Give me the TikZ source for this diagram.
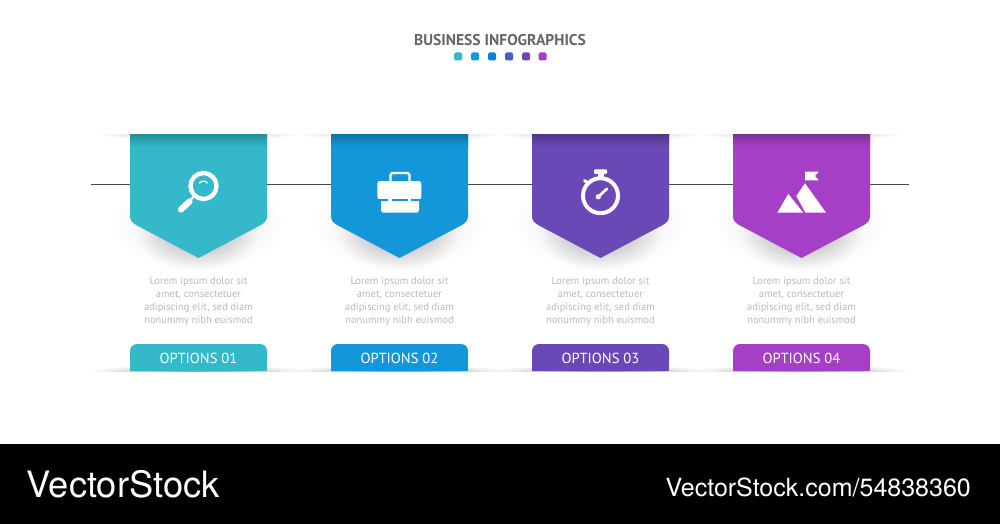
\documentclass[tikz,border=0pt]{standalone}
\usepackage{fontspec}
\setmainfont{PT Sans}
\newfontfamily\logofont{TeX Gyre Heros}
\definecolor{cteal}{HTML}{35B8C9}
\definecolor{cblue}{HTML}{1497D8}
\definecolor{cmid}{HTML}{0A80D8}
\definecolor{cind}{HTML}{4A5CC4}
\definecolor{cpur}{HTML}{6A48B5}
\definecolor{cvio}{HTML}{A53FC6}
\newcommand{\softell}[5]{% cx cy rx ry opacity
  \foreach \k in {1,...,32}{
    \fill[black,opacity=#5] (#1,#2) ellipse [x radius={#3*\k/32}, y radius={#4*\k/32}];
  }}
\newcommand{\bandunit}[4]{% offset colour name-suffix label
  \begin{scope}[xshift=#1pt]
    \begin{scope}
      \clip (80,134) rectangle (320,300);
      \softell{198.5}{133}{105}{8}{0.008}
      \softell{198.5}{222}{84}{50}{0.0035}
      \softell{198.5}{234}{60}{36}{0.0075}
    \end{scope}
    \begin{scope}
      \clip (80,340) rectangle (320,371);
      \softell{198.5}{372}{108}{7}{0.011}
    \end{scope}
    \path[fill=#2] (130,134) -- (267,134) -- (267,216)
      .. controls (267,220) and (265,223) .. (260,225.5)
      -- (198.5,258) -- (137,225.5)
      .. controls (132,223) and (130,220) .. (130,216) -- cycle;
    \shade[top color=#2!76!black,bottom color=#2] (130,134) rectangle (267,147);
    \node[lorem] (text#3) at (198.5,301.8) {Lorem ipsum dolor sit\\amet, consectetuer\\adipiscing elit, sed diam\\nonummy nibh euismod};
    \path[fill=#2,rounded corners=7pt] (130,371.2) -- (130,344) -- (267,344) -- (267,371.2) [sharp corners] -- cycle;
    \fill[#2] (130,360) rectangle (267,371);
    \node[opt] (option#3) at (198.5,358.8) {#4};
  \end{scope}}
\tikzset{
  lorem/.style={align=center,text=black!27,font=\fontsize{10.5}{13}\selectfont,inner sep=0pt},
  opt/.style={text=white,font=\fontsize{14.6}{16}\selectfont,inner sep=0pt},
  dot/.style={minimum size=8pt,inner sep=0pt,rounded corners=1.5pt,fill=#1},
  iconw/.style={fill=white,draw=none},
  strokew/.style={draw=white,fill=none}
}
\begin{document}
\begin{tikzpicture}[x=1pt,y=-1pt]
\useasboundingbox (0,0) rectangle (1000,524);
\fill[white] (0,0) rectangle (1000,524);
\coordinate (lineL) at (91,184.3);
\coordinate (lineR) at (909,184.3);
\draw[line width=0.9pt,black!72] (lineL) -- (lineR);
\bandunit{0}{cteal}{a}{OPTIONS 01}
\bandunit{201}{cblue}{b}{OPTIONS 02}
\bandunit{402}{cpur}{c}{OPTIONS 03}
\bandunit{603}{cvio}{d}{OPTIONS 04}
% title
\node[text=black!60,font=\fontsize{15.6}{16}\selectfont\bfseries,inner sep=0pt] (title) at (500,40) {BUSINESS INFOGRAPHICS};
\node[dot=cteal] (d1) at (458,56.5) {};
\node[dot=cblue] (d2) at (475,56.5) {};
\node[dot=cmid] (d3) at (492,56.5) {};
\node[dot=cind] (d4) at (509,56.5) {};
\node[dot=cpur] (d5) at (526,56.5) {};
\node[dot=cvio] (d6) at (542.5,56.5) {};
% magnifier
\draw[strokew,line width=4.4pt] (203.5,186) circle (13);
\draw[white,line width=1.3pt,line cap=round] (199.5,183) .. controls (202,180.5) and (205,180.5) .. (207.5,183);
\draw[white,line width=2.2pt] (193,197) -- (190,201);
\draw[white,line width=6.2pt,line cap=round] (181,209.5) -- (189.5,201.5);
% briefcase
\fill[iconw,rounded corners=2.5pt] (377.3,181) rectangle (421.3,199.5);
\fill[iconw,rounded corners=2.5pt] (381,199) -- (381,212.7) -- (419,212.7) -- (419,199) -- cycle;
\draw[white,line width=2.4pt,rounded corners=2.5pt] (390.5,181) -- (390.5,173) -- (409.5,173) -- (409.5,181);
\fill[cblue] (377,199.3) rectangle (421.5,200.5);
\fill[white] (388.3,198) rectangle (391.6,203);
\fill[white] (408,198) rectangle (411.3,203);
% stopwatch
\draw[strokew,line width=4pt] (600.5,195.7) circle (17.5);
\fill[iconw,rounded corners=1pt] (594,169.3) rectangle (607,173.8);
\fill[iconw] (597.5,173) rectangle (604,178);
\draw[white,line width=3pt,line cap=round] (584.5,180.5) -- (588,183);
\draw[white,line width=2.8pt,line cap=round] (598.6,196.6) -- (606.8,188.8);
\fill[white] (598.3,196.8) circle (2.6);
% mountain
\fill[iconw] (805,171.7) -- (818.7,171.7) -- (815,176) -- (818.7,180.3) -- (805,180.3) -- cycle;
\fill[iconw] (805,183.3) -- (826,212.7) -- (805.5,212.7) -- (796.3,196) -- cycle;
\fill[iconw] (788.3,194) -- (803.3,212.7) -- (777.3,212.7) -- cycle;
% footer
\fill[black] (0,444) rectangle (1000,524);
\node[text=white,font=\logofont\fontsize{36.3}{38}\selectfont,anchor=west,inner sep=0pt] (brand) at (26.5,484) {VectorStock};
\node[text=white,font=\logofont\fontsize{25}{26}\selectfont,anchor=east,inner sep=0pt] (url) at (971,487) {VectorStock.com/54838360};
\end{tikzpicture}
\end{document}
